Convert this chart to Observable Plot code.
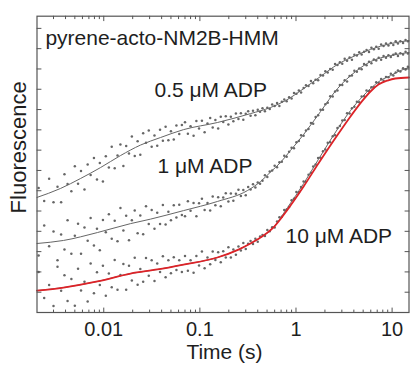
<!DOCTYPE html>
<html><head><meta charset="utf-8">
<script src="https://cdn.jsdelivr.net/npm/d3@7"></script>
<script src="https://cdn.jsdelivr.net/npm/@observablehq/plot@0.6"></script>
<style>html,body{margin:0;padding:0;background:#fff;}#chart{width:411px;height:367px;overflow:hidden}</style>
</head><body><div id="chart"></div>
<script>
// shared sampling times (s)
const tObs = [0.0021,0.0024,0.0027,0.003,0.0033,0.0036,0.0039,0.0042,0.0046,0.005,0.0054,0.0058,0.0063,0.0068,0.0073,0.0079,0.0085,0.0091,0.0098,0.0105,0.0113,0.0121,0.013,0.0139,0.0149,0.016,0.0171,0.0183,0.0196,0.021,0.0225,0.024,0.0257,0.0275,0.0294,0.0315,0.0337,0.036,0.0385,0.0412,0.044,0.047,0.05,0.0535,0.057,0.061,0.065,
0.07,0.075,0.08,0.086,0.092,0.098,0.105,0.112,0.12,0.128,0.136,0.145,0.155,0.165,0.175,0.186,0.198,0.21,0.223,0.237,0.252,0.267,0.283,0.3,0.318,0.337,0.357,0.378,0.4,0.423,
0.448,0.475,0.503,0.533,0.565,0.6,0.635,0.672,0.712,0.755,0.8,0.848,0.9,0.953,1.01,1.07,1.13,1.2,1.27,1.35,1.43,1.51,1.6,1.7,1.8,1.91,2.02,2.14,2.27,2.41,2.55,2.7,2.86,3.03,3.21,3.4,3.61,3.82,4.05,4.3,4.55,4.82,5.11,5.42,5.75,6.09,6.46,6.84,7.25,7.69,8.15,8.64,9.16,9.7,10.3,10.9,11.5,12.2,13.0,13.8,14.6];

// observed fluorescence, 0.5 uM ADP
const f05 = [6.14,5.50,6.59,5.43,6.20,5.43,6.81,6.33,5.98,7.21,6.34,6.97,6.06,7.29,6.78,7.61,6.55,7.37,6.46,7.70,7.14,8.17,7.11,7.74,8.28,7.22,8.20,7.84,8.67,7.71,8.44,7.77,8.83,8.37,8.97,8.17,8.72,8.22,9.01,8.46,9.15,8.49,8.93,8.52,9.21,8.80,9.24,
9.38,8.81,9.18,8.71,9.44,9.07,9.45,8.88,9.31,9.58,9.11,9.49,9.07,9.65,9.39,9.67,9.26,9.64,9.42,9.81,9.54,9.82,9.50,9.79,9.92,9.70,9.94,9.72,9.99,9.89,
10.06,9.92,10.09,10.03,10.25,10.17,10.32,10.18,10.38,10.50,10.41,10.61,10.55,10.82,10.78,10.94,10.84,11.06,11.20,11.16,11.41,11.29,11.47,11.45,11.70,11.68,11.89,11.82,12.00,11.96,12.25,12.20,12.33,12.26,12.50,12.40,12.56,12.46,12.70,12.66,12.82,12.71,12.85,12.94,12.83,13.05,12.97,13.09,13.00,13.21,13.13,13.25,13.16,13.28,13.18,13.37,13.26,13.37,13.28,13.43,13.36];

// observed fluorescence, 1 uM ADP
const f1 = [2.81,4.29,3.27,3.99,2.57,3.84,3.11,4.55,2.89,3.78,4.37,2.90,4.19,3.53,4.66,3.30,4.13,3.07,4.56,3.95,4.84,3.63,4.52,3.51,5.15,4.04,4.77,3.56,4.54,5.02,3.90,4.78,3.86,5.23,4.36,5.05,4.13,4.92,4.36,5.30,4.33,4.97,4.55,5.29,4.68,5.31,4.80,
4.74,5.48,5.01,5.40,4.74,5.38,5.61,5.05,5.39,5.02,5.71,5.29,5.68,5.23,5.67,5.87,5.47,5.86,5.51,5.85,6.05,5.74,6.03,5.78,6.18,6.06,6.32,6.16,6.41,6.34,
6.49,6.76,6.68,6.95,7.00,7.23,7.16,7.40,7.43,7.72,7.67,7.92,8.12,8.09,8.39,8.45,8.74,8.71,8.97,9.04,9.34,9.30,9.63,9.72,9.99,9.99,10.26,10.34,10.65,10.64,10.89,10.94,11.21,11.21,11.45,11.38,11.65,11.68,11.91,11.86,12.02,11.99,12.25,12.18,12.35,12.28,12.47,12.42,12.55,12.46,12.64,12.55,12.68,12.59,12.70,12.76,12.64,12.77,12.71,12.85,12.76];

// observed fluorescence, 10 uM ADP
const f10 = [1.99,0.72,1.35,0.32,2.25,1.07,1.84,0.57,1.65,0.33,2.16,1.09,1.52,0.54,2.42,0.95,1.98,1.36,2.30,0.83,1.92,1.25,2.59,1.12,1.85,2.39,1.12,2.30,1.58,2.70,1.37,2.14,1.51,2.69,1.81,2.58,1.55,2.42,1.99,2.77,1.74,2.57,1.94,2.72,2.09,2.57,2.00,
2.78,2.06,2.58,1.96,2.79,2.32,3.00,2.18,2.71,2.38,3.01,2.59,2.97,2.47,3.02,2.71,3.21,2.71,3.10,2.85,3.25,3.06,3.42,3.13,3.39,3.52,3.37,3.64,3.49,3.74,
3.82,3.77,4.06,4.00,4.20,4.19,4.48,4.69,4.72,5.05,5.08,5.20,5.53,5.60,5.94,5.93,6.19,6.45,6.44,6.79,6.88,7.20,7.29,7.61,7.62,7.94,8.03,8.36,8.39,8.68,8.74,9.09,9.19,9.46,9.49,9.82,9.81,10.07,10.14,10.39,10.36,10.64,10.66,10.94,10.92,11.10,11.10,11.34,11.31,11.50,11.42,11.60,11.59,11.77,11.68,11.82,11.93,11.87,12.04,11.97,12.11];

// fitted curves [time, fluorescence]
const fit05 = [[0.00202,5.67],[0.00354,6.11],[0.00572,6.60],[0.00924,7.14],[0.0149,7.73],[0.0241,8.25],[0.0389,8.62],[0.0675,9.01],[0.152,9.36],[0.336,9.80],[0.543,10.10],[0.778,10.44],[1.20,11.03],[1.80,11.63],[2.70,12.22],[4.16,12.66],[5.96,12.96],[9.62,13.25],[14.99,13.40]];
const fit1 = [[0.00202,3.40],[0.00381,3.55],[0.0086,3.94],[0.019,4.38],[0.0306,4.60],[0.0675,5.02],[0.152,5.47],[0.313,6.01],[0.427,6.45],[0.543,6.92],[0.689,7.39],[0.875,7.98],[1.20,8.77],[1.80,9.90],[2.70,11.03],[4.16,11.87],[5.96,12.36],[9.62,12.66],[14.99,12.81]];
const fit10 = [[0.00202,1.08],[0.00381,1.23],[0.0086,1.53],[0.019,1.92],[0.0362,2.12],[0.0675,2.36],[0.152,2.71],[0.252,3.10],[0.336,3.40],[0.427,3.69],[0.569,4.14],[0.816,5.17],[1.20,6.35],[1.71,7.54],[2.77,9.11],[3.69,9.95],[4.92,10.64],[5.96,11.03],[7.57,11.43],[9.62,11.67],[12.2,11.92],[14.99,12.07]];
const fitRed = [[0.00202,1.08],[0.00381,1.23],[0.0086,1.53],[0.019,1.92],[0.0362,2.12],[0.0675,2.36],[0.152,2.71],[0.252,3.10],[0.336,3.40],[0.427,3.69],[0.569,4.14],[0.816,5.07],[1.20,6.21],[1.71,7.34],[2.77,8.82],[3.69,9.66],[4.92,10.44],[5.96,10.89],[7.21,11.23],[8.96,11.43],[10.8,11.53],[14.99,11.58]];

// annotations
const labelText = ["pyrene-acto-NM2B-HMM", "0.5 \u03bcM ADP", "1 \u03bcM ADP", "10 \u03bcM ADP"];
const labelT = [0.00247, 0.0337, 0.0362, 0.777];
const labelF = [13.2, 10.64, 6.85, 3.40];

// ticks
const xMajor = [0.01, 0.1, 1, 10];
const xMajorLabels = ["0.01", "0.1", "1", "10"];
const xMinor = [0.003,0.004,0.005,0.006,0.007,0.008,0.009,0.02,0.03,0.04,0.05,0.06,0.07,0.08,0.09,0.2,0.3,0.4,0.5,0.6,0.7,0.8,0.9,2,3,4,5,6,7,8,9];
const yTicks = [1,2,3,4,5,6,7,8,9,10,11,12,13,14];

const seriesNames = ["0.5 uM ADP", "1 uM ADP", "10 uM ADP"];
const obs = [];
[f05, f1, f10].forEach((vals, s) => vals.forEach((v, i) => obs.push({t: tObs[i], f: v, series: seriesNames[s]})));

const tickShape = {draw(c, l) { c.moveTo(0, 0); c.lineTo(0, -l); }};
const axisColor = "#555";
const textColor = "#1e1e1e";
const font = "'Liberation Sans', Arial, Helvetica, sans-serif";
const tk = (o) => Object.assign({anchor: "start", shape: tickShape, stroke: axisColor, strokeWidth: 1}, o);

const chart = Plot.plot({
  width: 411, height: 367,
  marginLeft: 36.5, marginRight: 2.5, marginTop: 15.7, marginBottom: 55,
  x: {type: "log", domain: [0.00202, 14.99], axis: null},
  y: {domain: [0, 14.6], axis: null},
  style: {fontFamily: font, fontSize: "20px", color: textColor, background: "#fff"},
  marks: [
    Plot.dot(obs, {x: "t", y: "f", r: 1.25, fill: "#666"}),
    Plot.line(fit05, {x: d => d[0], y: d => d[1], stroke: "#666", strokeWidth: 1, curve: "monotone-x"}),
    Plot.line(fit1, {x: d => d[0], y: d => d[1], stroke: "#666", strokeWidth: 1, curve: "monotone-x"}),
    Plot.line(fit10, {x: d => d[0], y: d => d[1], stroke: "#666", strokeWidth: 1, curve: "monotone-x"}),
    Plot.line(fitRed, {x: d => d[0], y: d => d[1], stroke: "#dc2328", strokeWidth: 1.8, curve: "monotone-x"}),
    Plot.frame({stroke: axisColor, strokeWidth: 1.2}),
    Plot.vector(xMajor, tk({x: d => d, frameAnchor: "bottom", length: 4.5})),
    Plot.vector(xMinor, tk({x: d => d, frameAnchor: "bottom", length: 2.5})),
    Plot.vector(xMajor, tk({x: d => d, frameAnchor: "top", length: 4.5, rotate: 180})),
    Plot.vector(xMinor, tk({x: d => d, frameAnchor: "top", length: 2.5, rotate: 180})),
    Plot.vector(yTicks, tk({y: d => d, frameAnchor: "left", length: 4, rotate: 90})),
    Plot.vector(yTicks, tk({y: d => d, frameAnchor: "right", length: 4, rotate: -90})),
    Plot.text(xMajor, {x: d => d, text: (d, i) => xMajorLabels[i], frameAnchor: "bottom", dy: 23.5, lineAnchor: "bottom", fontSize: 20, fill: textColor}),
    Plot.text(["Time (s)"], {frameAnchor: "bottom", dx: 1.5, dy: 46, lineAnchor: "bottom", fontSize: 21, fill: textColor}),
    Plot.text(["Fluorescence"], {frameAnchor: "left", dx: -11.5, dy: -17, rotate: -90, lineAnchor: "bottom", textAnchor: "middle", fontSize: 22, fill: textColor}),
    Plot.text(labelText, {x: (d, i) => labelT[i], y: (d, i) => labelF[i], textAnchor: "start", lineAnchor: "bottom", fontSize: 21, fill: textColor})
  ]
});
document.getElementById("chart").appendChild(chart);
</script>
</body></html>
